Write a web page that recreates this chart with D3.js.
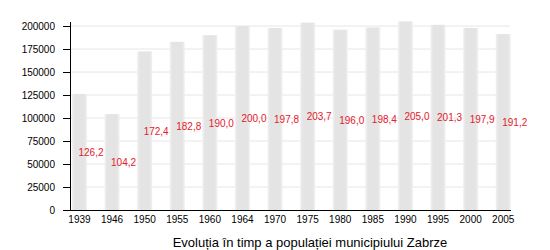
<!DOCTYPE html>
<html>
<head>
<meta charset="utf-8">
<script src="https://cdn.jsdelivr.net/npm/d3@7"></script>
<style>
  body { margin: 0; background: #fff; }
  text { font-family: "Liberation Sans", Arial, sans-serif; }
</style>
</head>
<body>
<div id="chart"></div>
<script>
const years = ["1939", "1946", "1950", "1955", "1960", "1964", "1970", "1975", "1980", "1985", "1990", "1995", "2000", "2005"];
const population = [126200, 104200, 172400, 182800, 190000, 200000, 197800, 203700, 196000, 198400, 205000, 201300, 197900, 191200];
const labels = ["126,2", "104,2", "172,4", "182,8", "190,0", "200,0", "197,8", "203,7", "196,0", "198,4", "205,0", "201,3", "197,9", "191,2"];
const yTicks = [0, 25000, 50000, 75000, 100000, 125000, 150000, 175000, 200000];
const title = "Evoluția în timp a populației municipiului Zabrze";

const width = 550, height = 250;
const svg = d3.select("#chart").append("svg")
  .attr("width", width)
  .attr("height", height);

const x = d3.scaleBand()
  .domain(years)
  .range([70, 512.7])
  .paddingInner(0.54)
  .paddingOuter(0.06);

const y = d3.scaleLinear()
  .domain([0, 200000])
  .range([210, 26]);

// bar gradient, soft edges
const grad = svg.append("defs").append("linearGradient")
  .attr("id", "barGrad")
  .attr("x1", "0%").attr("x2", "100%");
grad.append("stop").attr("offset", "0%").attr("stop-color", "#f1f1f1");
grad.append("stop").attr("offset", "18%").attr("stop-color", "#e4e4e4");
grad.append("stop").attr("offset", "82%").attr("stop-color", "#e4e4e4");
grad.append("stop").attr("offset", "100%").attr("stop-color", "#f1f1f1");

// gridlines
svg.append("g")
  .selectAll("line")
  .data(yTicks.filter(d => d > 0))
  .enter()
  .append("line")
  .attr("x1", 70)
  .attr("x2", 510)
  .attr("y1", d => y(d))
  .attr("y2", d => y(d))
  .attr("stroke", "#e6e6e6")
  .attr("stroke-width", 1);

// bars
svg.append("g")
  .selectAll("rect")
  .data(population)
  .enter()
  .append("rect")
  .attr("x", (d, i) => x(years[i]))
  .attr("y", d => y(d))
  .attr("width", x.bandwidth())
  .attr("height", d => y(0) - y(d))
  .attr("fill", "url(#barGrad)");

// value labels
svg.append("g")
  .selectAll("text")
  .data(population)
  .enter()
  .append("text")
  .attr("x", (d, i) => x(years[i]) + x.bandwidth() / 2 - 1)
  .attr("y", d => y(d / 2) + 4)
  .attr("fill", "#e3202c")
  .attr("font-size", 10)
  .text((d, i) => labels[i]);

// y axis
const yAxis = svg.append("g")
  .attr("transform", "translate(70,0)")
  .call(d3.axisLeft(y).tickValues(yTicks).tickSize(7).tickPadding(8).tickFormat(d3.format("d")));
yAxis.select(".domain").remove();
yAxis.selectAll("line").attr("stroke", "#000");
yAxis.selectAll("text").attr("font-size", 10).attr("fill", "#000")
  .attr("font-family", "Liberation Sans, Arial, sans-serif");
svg.append("line")
  .attr("x1", 70.5).attr("x2", 70.5)
  .attr("y1", 22).attr("y2", 211)
  .attr("stroke", "#000");

// x axis
const xAxis = svg.append("g")
  .attr("transform", "translate(0,210)")
  .call(d3.axisBottom(x).tickSize(0).tickPadding(6));
xAxis.select(".domain").remove();
xAxis.selectAll("text").attr("font-size", 10).attr("fill", "#000")
  .attr("font-family", "Liberation Sans, Arial, sans-serif");
svg.append("line")
  .attr("x1", 70).attr("x2", 511)
  .attr("y1", 210.5).attr("y2", 210.5)
  .attr("stroke", "#000");

// title
svg.append("text")
  .attr("x", 310)
  .attr("y", 247)
  .attr("text-anchor", "middle")
  .attr("font-size", 13)
  .attr("fill", "#000")
  .text(title);
</script>
</body>
</html>
